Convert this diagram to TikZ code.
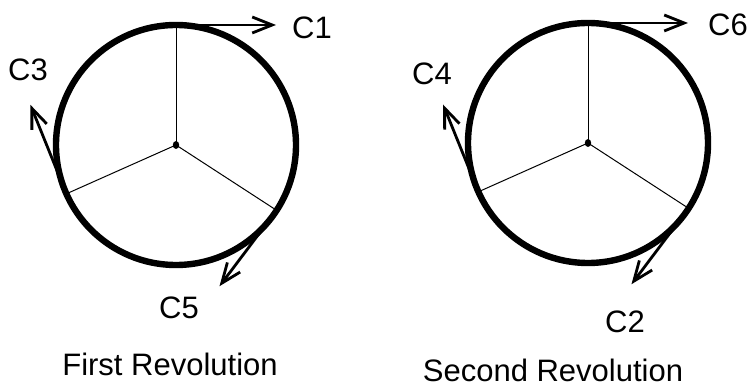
\documentclass[tikz,border=0pt]{standalone}
\usepackage{fontspec}
\setmainfont{Liberation Sans}
\usetikzlibrary{arrows.meta,positioning,shapes.geometric}

\begin{document}
\begin{tikzpicture}[
   x=0.5pt, y=0.5pt,
   rim/.style={line width=3.2pt},
   spoke/.style={line width=0.5pt},
   hubdot/.style={ellipse, fill, inner sep=0pt, minimum width=3.2pt, minimum height=4pt},
   arrow/.style={-{Straight Barb[length=10pt,width=8pt,line width=1.4pt]}, line width=1.4pt},
   clab/.style={font=\fontsize{15.5}{18}\selectfont, inner sep=0pt},
   title/.style={font=\fontsize{15.5}{18}\selectfont, inner sep=0pt}
]
\useasboundingbox (0,0) rectangle (749,385);

% first revolution
\coordinate (hubA) at (176,240);
\draw[rim] (hubA) circle[radius=120];
\coordinate (topA) at ([shift={(90:120)}]hubA);
\coordinate (leftA) at ([shift={(204:120)}]hubA);
\coordinate (rightA) at ([shift={(-33:120)}]hubA);
\node[hubdot] (dotA) at (hubA) {};
\draw[spoke] (dotA.center) -- (topA);
\draw[spoke] (dotA.center) -- (leftA);
\draw[spoke] (dotA.center) -- (rightA);
\coordinate (tipC1) at ([shift={(100,0)}]topA);
\coordinate (tipC3) at ([shift={(112:96)}]leftA);
\coordinate (tipC5) at ([shift={(233:95)}]rightA);
\draw[arrow] (topA) -- (tipC1);
\draw[arrow] (leftA) -- (tipC3);
\draw[arrow] (rightA) -- (tipC5);
\node[clab] (C1) at (312,357) {C1};
\node[clab] (C3) at (28,315) {C3};
\node[clab] (C5) at (179,77) {C5};
\node[title] (firstrev) at (170,21) {First Revolution};

% second revolution
\coordinate (hubB) at (588,242);
\draw[rim] (hubB) circle[radius=120];
\coordinate (topB) at ([shift={(90:120)}]hubB);
\coordinate (leftB) at ([shift={(204:120)}]hubB);
\coordinate (rightB) at ([shift={(-33:120)}]hubB);
\node[hubdot] (dotB) at (hubB) {};
\draw[spoke] (dotB.center) -- (topB);
\draw[spoke] (dotB.center) -- (leftB);
\draw[spoke] (dotB.center) -- (rightB);
\coordinate (tipC6) at ([shift={(100,0)}]topB);
\coordinate (tipC4) at ([shift={(112:94)}]leftB);
\coordinate (tipC2) at ([shift={(233:95)}]rightB);
\draw[arrow] (topB) -- (tipC6);
\draw[arrow] (leftB) -- (tipC4);
\draw[arrow] (rightB) -- (tipC2);
\node[clab] (C6) at (728,360) {C6};
\node[clab] (C4) at (432,311) {C4};
\node[clab] (C2) at (625,63) {C2};
\node[title] (secondrev) at (553,15) {Second Revolution};
\end{tikzpicture}
\end{document}
